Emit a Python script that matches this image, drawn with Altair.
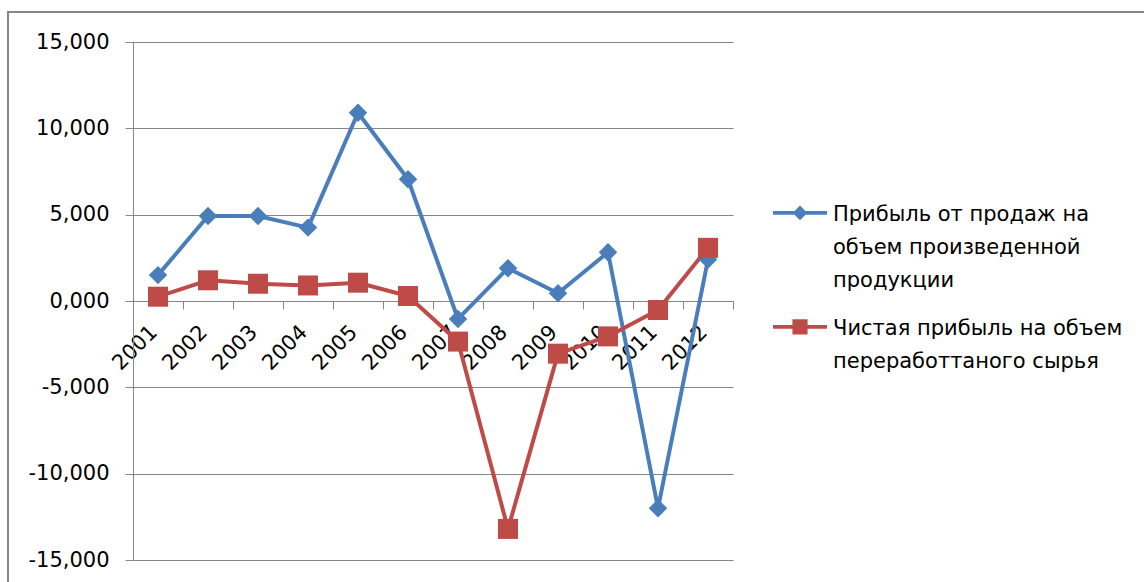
import altair as alt
import pandas as pd

# Years on the category axis
years = ["2001", "2002", "2003", "2004", "2005", "2006",
         "2007", "2008", "2009", "2010", "2011", "2012"]

# Series names (line breaks mark where the legend text wraps)
series_sales = "Прибыль от продаж на\nобъем произведенной\nпродукции"
series_net = "Чистая прибыль на объем\nпереработтаного сырья"

# Values per year
sales_profit = [1.5, 4.92, 4.92, 4.25, 10.9, 7.05, -1.04, 1.9, 0.45, 2.82, -12.0, 2.4]
net_profit = [0.25, 1.2, 1.0, 0.9, 1.06, 0.29, -2.35, -13.2, -3.05, -2.05, -0.52, 3.08]

y_ticks = [-15, -10, -5, 0, 5, 10, 15]

BLUE = "#4A7EBB"
RED = "#BE4B48"
GRID = "#868686"
FONT = "DejaVu Sans"

df = pd.DataFrame(
    {"year": years * 2,
     "value": sales_profit + net_profit,
     "series": [series_sales] * len(years) + [series_net] * len(years)}
)

series_order = [series_sales, series_net]
color_scale = alt.Scale(domain=series_order, range=[BLUE, RED])

# legend glyphs: a short bar with the series marker on it,
# nudged down so it sits on the first line of the label
legend_paths = [
    "M-1,0.26H1V0.40H-1Z M0,0.06L0.27,0.33L0,0.60L-0.27,0.33Z",
    "M-1,0.26H1V0.40H-1Z M-0.28,0.05H0.28V0.61H-0.28Z",
]

x_enc = alt.X(
    "year:O",
    sort=years,
    scale=alt.Scale(type="band", paddingInner=0, paddingOuter=0),
    axis=alt.Axis(
        title=None,
        offset=-259,
        tickBand="extent",
        labelAngle=-45,
        labelAlign="right",
        labelBaseline="top",
        labelPadding=12,
        labelOffset=-12,
        tickSize=8,
        tickColor=GRID,
        domainColor=GRID,
        domainWidth=1,
        grid=False,
        labelFont=FONT,
        labelFontSize=21,
        labelColor="#000000",
    ),
)

y_enc = alt.Y(
    "value:Q",
    scale=alt.Scale(domain=[-15, 15], nice=False, zero=False),
    axis=alt.Axis(
        title=None,
        values=y_ticks,
        labelExpr="(datum.value < 0 ? '-' : '') + replace(format(abs(datum.value), '.3f'), '.', ',')",
        tickSize=8,
        tickColor=GRID,
        domainColor=GRID,
        gridColor=GRID,
        gridWidth=1,
        grid=True,
        labelPadding=16,
        labelFont=FONT,
        labelFontSize=21,
        labelColor="#000000",
    ),
)

base = alt.Chart(df)

lines = base.mark_line(strokeWidth=4, strokeJoin="round").encode(
    x=x_enc,
    y=y_enc,
    color=alt.Color("series:N", scale=color_scale, sort=series_order, legend=None),
    order=alt.Order("year:O"),
)

diamonds = base.transform_filter(
    alt.datum.series == series_sales
).mark_point(shape="diamond", filled=True, size=340, opacity=1).encode(
    x=x_enc,
    y=y_enc,
    color=alt.Color("series:N", scale=color_scale, sort=series_order, legend=None),
)

squares = base.transform_filter(
    alt.datum.series == series_net
).mark_point(shape="square", filled=True, size=400, opacity=1).encode(
    x=x_enc,
    y=y_enc,
    color=alt.Color("series:N", scale=color_scale, sort=series_order, legend=None),
)

# zero-size points that only carry the legend
legend_layer = base.mark_point(filled=True, size=0, opacity=1).encode(
    x=x_enc,
    y=y_enc,
    color=alt.Color(
        "series:N",
        scale=color_scale,
        sort=series_order,
        legend=alt.Legend(
            title=None,
            orient="none",
            legendX=640,
            legendY=135,
            labelExpr="split(datum.label, '\\n')",
            labelLimit=500,
            labelFont=FONT,
            labelFontSize=21,
            labelColor="#000000",
            labelOffset=6,
            labelBaseline="top",
            symbolSize=2916,
            symbolStrokeWidth=0,
            symbolOpacity=1,
            rowPadding=0,
        ),
    ),
    shape=alt.Shape(
        "series:N",
        scale=alt.Scale(domain=series_order, range=legend_paths),
        sort=series_order,
        legend=alt.Legend(title=None),
    ),
)

# outer frame around the whole figure
frame = alt.Chart(pd.DataFrame({"k": [0]})).mark_rect(
    fill="transparent", stroke=GRID, strokeWidth=2
).encode(
    x=alt.value(-125), x2=alt.value(1040),
    y=alt.value(-30), y2=alt.value(560),
)

chart = alt.layer(frame, lines, diamonds, squares, legend_layer).resolve_scale(
    color="independent", shape="independent"
).properties(
    width=600,
    height=518,
    padding={"left": 133, "top": 42, "right": 411, "bottom": 22},
    autosize=alt.AutoSizeParams(type="none"),
).configure(
    background="#ffffff",
    style={"guide-label": {"lineHeight": 33}},
).configure_view(
    stroke=None
)

chart.save("out.html", embed_options={"renderer": "svg", "actions": False})
